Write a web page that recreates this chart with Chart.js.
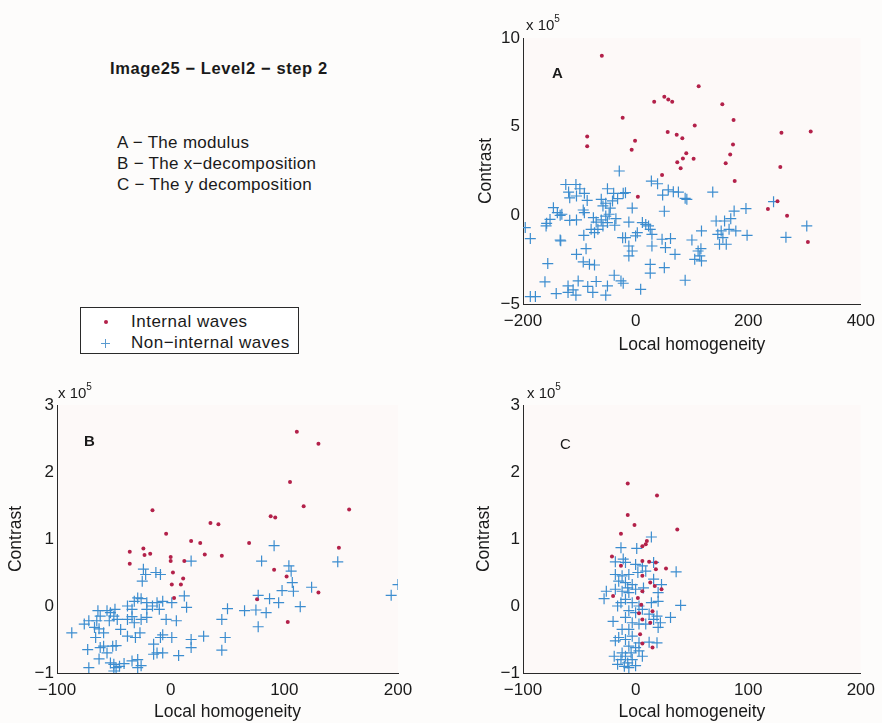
<!DOCTYPE html>
<html>
<head>
<meta charset="utf-8">
<title>Image25 - Level2 - step 2</title>
<script src="https://cdn.jsdelivr.net/npm/chart.js@4.4.0/dist/chart.umd.min.js"></script>
<style>
  html, body { margin: 0; padding: 0; background: #fdfcfb; }
  body { width: 882px; height: 723px; position: relative; overflow: hidden;
         font-family: "Liberation Sans", Arial, sans-serif; color: #1a1a1a; }
  .box { position: absolute; }
  .txt { position: absolute; white-space: nowrap; line-height: 1; }
  .exp { font-size: 15px; }
  .exp sup { font-size: 10px; position: relative; top: -3px; vertical-align: top; }
  #legend { position: absolute; left: 80px; top: 307px; width: 217px; height: 45px;
            border: 1px solid #2a2a2a; background: #fff; }
  #legend .row { position: absolute; left: 50px; font-size: 17px; letter-spacing: 0.5px; line-height: 1; }
  .dot { position: absolute; width: 4px; height: 4px; border-radius: 50%; background: #b3214a; }
  .plus { position: absolute; width: 9px; height: 9px; }
  .plus:before, .plus:after { content: ""; position: absolute; background: #5a9bd0; }
  .plus:before { left: 4px; top: 0; width: 1px; height: 9px; }
  .plus:after { left: 0; top: 4px; width: 9px; height: 1px; }
</style>
</head>
<body>

<div class="txt" style="left:110px; top:60px; font-size:16.5px; letter-spacing:0.6px; font-weight:bold;">Image25 − Level2 − step 2</div>
<div class="txt" style="left:117px; top:134px; font-size:17px; letter-spacing:0.3px;">A − The modulus</div>
<div class="txt" style="left:117px; top:155px; font-size:17px; letter-spacing:0.3px;">B − The x−decomposition</div>
<div class="txt" style="left:117px; top:176px; font-size:17px; letter-spacing:0.3px;">C − The y decomposition</div>

<div id="legend">
  <div class="dot" style="left:23px; top:12px;"></div>
  <div class="row" style="top:5px;">Internal waves</div>
  <div class="plus" style="left:20px; top:31px;"></div>
  <div class="row" style="top:26px;">Non−internal waves</div>
</div>

<div class="box" style="left:470px; top:0px;"><canvas id="chartA" width="412" height="360"></canvas></div>
<div class="box" style="left:0px; top:365px;"><canvas id="chartB" width="420" height="358"></canvas></div>
<div class="box" style="left:470px; top:365px;"><canvas id="chartC" width="412" height="358"></canvas></div>

<div class="txt exp" style="left:526px; top:17px;">x 10<sup>5</sup></div>
<div class="txt exp" style="left:58px; top:385px;">x 10<sup>5</sup></div>
<div class="txt exp" style="left:527px; top:385px;">x 10<sup>5</sup></div>

<div class="txt" style="left:552px; top:65px; font-size:15px; font-weight:bold;">A</div>
<div class="txt" style="left:84px; top:433px; font-size:15px; font-weight:bold;">B</div>
<div class="txt" style="left:560px; top:436px; font-size:15px;">C</div>

<script>
// contrast values are in units of 1e5
// A - the modulus
var aInternalX = [-60, 112, 33, 51, 58, 65, 154, -23, 105, 174, 57, 73, 83, -86, -86, -1, -7, 173, 90, 84,
  103, 74, 80, 168, 160, 259, 311, 257, 47, 176, 4, 252, 235, 269, 306];
var aInternalY = [9.0, 7.28, 6.4, 6.68, 6.53, 6.4, 6.27, 5.5, 5.07, 5.37, 4.7, 4.54, 4.35, 4.45, 3.9, 4.2, 3.7, 4.0, 3.5, 3.2,
  3.19, 3.0, 2.65, 3.43, 2.93, 4.65, 4.73, 2.72, 2.27, 1.93, 1.05, 0.8, 0.36, -0.02, -1.5];
var aOtherX = [-29, 28, 39, 58, 67, 76, 48, 88, 91, 137, -124, -106, -99, -119, -91, -117, -105, -86, -50, -39,
  -32, -22, -18, -61, -53, -58, -41, -45, -6, 51, -146, -139, -134, -131, -152, -158, -159, -196, -187, -134,
  -133, -117, -105, -93, -91, -75, -70, -61, -53, -47, -35, -37, -67, -73, -92, -79, -58, -50, -12, 3,
  12, 18, 23, 26, 29, -23, -18, -12, -6, -12, 0, 29, 47, 53, 62, 70, 51, 26, 26, 9,
  -38, -26, -22, -88, -105, -93, -82, -73, -156, -161, -178, -187, -141, -120, -120, -111, -106, -102, -85, -76,
  -70, -50, -53, 100, 111, 114, 105, 117, 116, 88, 117, 143, 152, 158, 169, 175, 196, 198, 178, 166,
  146, 149, 161, 155, 267, 304, 245];
var aOtherY = [2.5, 1.93, 1.78, 1.43, 1.33, 1.31, 1.14, 0.96, 0.9, 1.31, 1.74, 1.74, 1.5, 1.31, 1.24, 0.99, 1.09, 0.84, 1.5, 1.24,
  0.94, 1.24, 1.28, 0.9, 0.68, 0.53, 0.81, 0.41, 0.41, 0.23, 0.43, 0.15, 0, 0.06, -0.23, -0.45, -0.6, -0.69, -1.31, -1.39,
  -1.44, -0.28, -0.26, 0.3, 0.15, -0.13, -0.38, -0.26, -0.04, 0.06, -0.19, -0.56, -0.79, -0.98, -1.13, -0.79, -0.6, -0.41, -0.38, -0.98,
  -0.41, -0.51, -0.6, -0.79, -1.07, -1.26, -1.26, -1.73, -2.01, -2.29, -1.16, -1.73, -1.35, -1.82, -1.31, -2.2, -2.95, -2.76, -3.26, -4.17,
  -3.38, -3.7, -3.83, -1.88, -2.2, -2.63, -2.76, -2.8, -2.72, -3.75, -4.58, -4.58, -4.41, -3.98, -4.35, -4.2, -4.5, -3.7, -4.01, -4.35,
  -3.73, -3.98, -4.5, -1.39, -2.01, -2.29, -2.48, -2.57, -1.88, -3.66, -0.88, -0.32, -0.88, -0.32, -0.19, 0.24, 0.38, -1.13, -0.88, -0.79,
  -1.07, -1.63, -1.63, -1.26, -1.24, -0.6, 0.77];

// B - the x-decomposition
var bInternalX = [111, 130, 105, 117, 157, -16, 88, 92, 35, 42, -4, 18, 26, 69, 148, -36, -24, -23, -18, 30,
  45, 0, 0, 12, -36, 2, 91, 102, 11, 1, 9, 3, 76, 130, 103];
var bInternalY = [2.6, 2.42, 1.85, 1.49, 1.44, 1.43, 1.34, 1.32, 1.24, 1.22, 1.08, 0.97, 0.94, 0.94, 0.87, 0.81, 0.86, 0.76, 0.78, 0.77,
  0.75, 0.73, 0.67, 0.67, 0.63, 0.5, 0.54, 0.44, 0.41, 0.32, 0.32, 0.12, 0.1, 0.2, -0.24];
var bOtherX = [18, 80, 91, 104, 106, 107, 147, 200, 194, 124, 108, 98, 95, 87, 77, 114, 84, 75, 65, 77,
  50, 45, 48, 45, 29, 18, 18, 7, 12, 14, 1, 1, -4, 5, -9, -7, -15, -12, -7, -15,
  -22, -24, -13, -9, -25, -29, -26, -32, -21, -16, -12, -7, -10, -21, -21, -26, -34, -32, -38, -27,
  -31, -38, -44, -47, -50, -53, -54, -56, -49, -62, -64, -65, -72, -76, -67, -63, -66, -59, -59, -62,
  -51, -48, -56, -63, -73, -87, -72, -53, -50, -48, -45, -50, -41, -34, -29, -29, -26, -38, -34];
var bOtherY = [0.67, 0.67, 0.9, 0.6, 0.52, 0.35, 0.66, 0.32, 0.16, 0.28, 0.22, 0.23, 0.05, 0.11, 0.16, -0.01, -0.1, -0.06, -0.07, -0.31,
  -0.04, -0.2, -0.47, -0.66, -0.45, -0.5, -0.62, -0.74, 0.15, -0.02, 0.05, -0.47, -0.2, -0.22, -0.47, -0.43, -0.57, -0.7, -0.7, -0.72,
  0.47, 0.55, 0.5, 0.47, 0.37, 0.12, 0.11, 0.07, 0.05, 0, 0.05, 0.07, -0.05, -0.05, -0.17, -0.2, -0.16, -0.25, -0.2, -0.4,
  -0.47, -0.45, -0.35, -0.2, -0.15, -0.1, -0.22, -0.07, -0.05, -0.15, -0.07, -0.22, -0.22, -0.27, -0.32, -0.34, -0.47, -0.4, -0.6, -0.62,
  -0.6, -0.59, -0.7, -0.79, -0.65, -0.4, -0.92, -0.85, -0.87, -0.92, -0.9, -0.97, -0.86, -0.82, -0.8, -0.92, -0.89, 0, -0.05];

// C - the y decomposition
var cInternalX = [-7, 19, -7, -1, 37, -13, 10, 6, 9, -21, 6, 12, 18, 27, -13, 18, 6, 13, 17, 23,
  -20, 6, 2, 5, 3, 15, 6, 13, 4, 6, 15];
var cInternalY = [1.83, 1.65, 1.36, 1.21, 1.14, 1.08, 0.97, 0.89, 0.92, 0.74, 0.67, 0.66, 0.65, 0.56, 0.6, 0.55, 0.45, 0.35, 0.3, 0.25,
  0.15, 0.22, 0.12, 0.02, -0.11, -0.08, -0.2, -0.25, -0.42, -0.56, -0.62];
var cOtherX = [14, -13, 1, -11, -18, -9, 16, 0, 6, 36, -18, -12, -6, 2, 9, -15, -9, -3, 23, 16,
  -26, -28, -18, -12, -6, 0, 7, 20, -9, -3, 3, 14, 40, 20, -20, -6, 0, 6, 12, 19,
  22, 31, -9, -3, 3, 9, 16, 20, -15, -18, -9, -3, 3, 12, 19, -6, 0, -12, -4, -9,
  -3, -19, -16, -10, -6, 0, -13, -7, 6, 3, -6, -12, -16, -13, -7];
var cOtherY = [1.03, 0.87, 0.86, 0.7, 0.66, 0.65, 0.65, 0.62, 0.6, 0.51, 0.47, 0.45, 0.47, 0.5, 0.52, 0.37, 0.35, 0.32, 0.32, 0.4,
  0.22, 0.11, 0.25, 0.22, 0.2, 0.25, 0.27, 0.2, 0.1, 0.05, 0, 0.05, 0.01, 0.07, -0.23, -0.07, -0.1, -0.05, -0.12, -0.15,
  -0.25, -0.17, -0.17, -0.25, -0.27, -0.27, -0.2, -0.32, -0.47, -0.52, -0.5, -0.45, -0.55, -0.54, -0.55, -0.6, -0.62, -0.7, -0.7, -0.75,
  -0.8, -0.75, -0.87, -0.9, -0.92, -0.89, -0.8, -0.85, -0.75, -0.67, -0.35, -0.35, 0, 0.05, 0.27];

var fontFamily = '"Liberation Sans", Arial, sans-serif';
var red = '#b3214a';
var blue = '#3c8dcf';

function toPoints(xs, ys) {
  var pts = [];
  for (let i = 0; i < xs.length; i++) {
    pts.push({ x: xs[i], y: ys[i] });
  }
  return pts;
}

function minusSign(value) {
  return String(value).replace('-', '\u2212');
}

var areaFill = {
  id: 'areaFill',
  beforeDraw: function(chart) {
    var a = chart.chartArea;
    chart.ctx.save();
    chart.ctx.fillStyle = '#fdf9f8';
    chart.ctx.fillRect(a.left, a.top, a.right - a.left, a.bottom - a.top);
    chart.ctx.restore();
  }
};

function makePanel(id, inX, inY, outX, outY, g) {
  return new Chart(document.getElementById(id), {
    type: 'scatter',
    data: {
      datasets: [
        {
          label: 'Internal waves',
          data: toPoints(inX, inY),
          order: 0,
          pointStyle: 'circle',
          pointRadius: 2,
          backgroundColor: red,
          borderWidth: 0
        },
        {
          label: 'Non-internal waves',
          data: toPoints(outX, outY),
          order: 1,
          pointStyle: 'cross',
          pointRadius: 5.5,
          borderColor: blue,
          borderWidth: 1.2
        }
      ]
    },
    options: {
      responsive: false,
      animation: false,
      events: [],
      layout: { padding: { left: 0, right: g.right, top: g.top, bottom: 0 } },
      plugins: { legend: { display: false }, tooltip: { enabled: false } },
      scales: {
        x: {
          type: 'linear',
          min: g.xMin, max: g.xMax,
          afterFit: function(scale) { scale.height = g.xHeight; },
          grid: { drawOnChartArea: false, drawTicks: false },
          border: { display: true, color: '#2a2a2a', width: 1 },
          ticks: {
            stepSize: g.xStep,
            padding: 7,
            color: '#1a1a1a',
            font: { family: fontFamily, size: 17 },
            callback: minusSign
          },
          title: {
            display: true,
            text: 'Local homogeneity',
            color: '#1a1a1a',
            font: { family: fontFamily, size: 17.5 },
            padding: { top: 0, bottom: g.xTitlePad }
          }
        },
        y: {
          type: 'linear',
          min: g.yMin, max: g.yMax,
          afterFit: function(scale) { scale.width = g.yWidth; },
          grid: { drawOnChartArea: false, drawTicks: false },
          border: { display: true, color: '#2a2a2a', width: 1 },
          ticks: {
            stepSize: g.yStep,
            padding: 3,
            color: '#1a1a1a',
            font: { family: fontFamily, size: 17 },
            callback: minusSign
          },
          title: {
            display: true,
            text: 'Contrast',
            color: '#1a1a1a',
            font: { family: fontFamily, size: 17.5 },
            padding: { top: g.yTitlePad, bottom: 0 }
          }
        }
      }
    },
    plugins: [areaFill]
  });
}

var chartA = makePanel('chartA', aInternalX, aInternalY, aOtherX, aOtherY, {
  right: 17, top: 38, xHeight: 56, yWidth: 53, xTitlePad: 4.5, yTitlePad: 6,
  xMin: -200, xMax: 400, xStep: 200, yMin: -5, yMax: 10, yStep: 5
});
var chartB = makePanel('chartB', bInternalX, bInternalY, bOtherX, bOtherY, {
  right: 22, top: 40, xHeight: 50, yWidth: 57, xTitlePad: 0.5, yTitlePad: 6,
  xMin: -100, xMax: 200, xStep: 100, yMin: -1, yMax: 3, yStep: 1
});
var chartC = makePanel('chartC', cInternalX, cInternalY, cOtherX, cOtherY, {
  right: 17, top: 40, xHeight: 50, yWidth: 53, xTitlePad: 0.5, yTitlePad: 4,
  xMin: -100, xMax: 200, xStep: 100, yMin: -1, yMax: 3, yStep: 1
});
</script>
</body>
</html>
